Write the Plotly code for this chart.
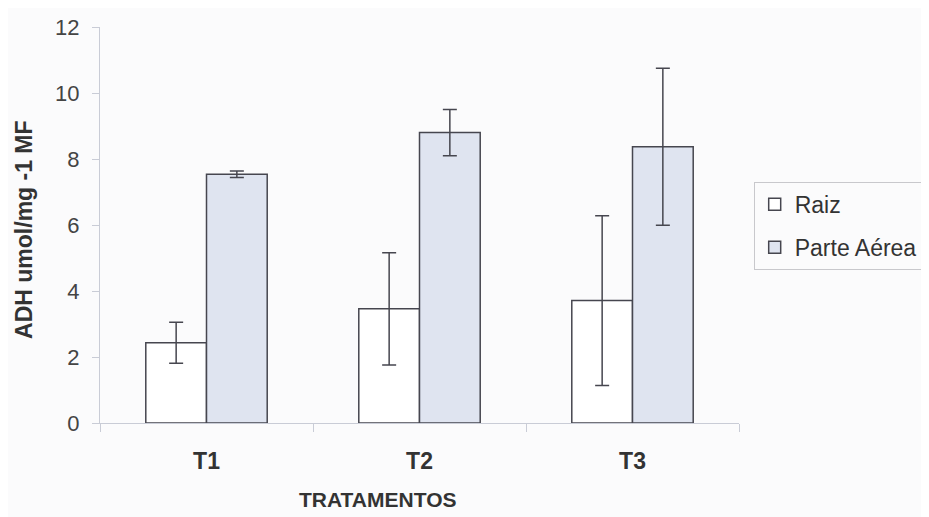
import plotly.graph_objects as go

categories = ["T1", "T2", "T3"]
raiz = [2.43, 3.46, 3.71]
raiz_err = [0.62, 1.70, 2.57]
parte = [7.54, 8.80, 8.37]
parte_err = [0.10, 0.70, 2.38]
yticks = [0, 2, 4, 6, 8, 10, 12]

edge = "#46464f"
font = "Liberation Sans, Arial, sans-serif"

fig = go.Figure()
fig.add_trace(go.Bar(
    name="Raiz", x=categories, y=raiz, legendgroup="a",
    marker=dict(color="#ffffff", line=dict(color=edge, width=1.5)),
    error_y=dict(type="data", array=raiz_err, color=edge, thickness=1.5, width=7),
))
fig.add_trace(go.Bar(
    name="Parte Aérea", x=categories, y=parte, legendgroup="b",
    marker=dict(color="#dfe4f0", line=dict(color=edge, width=1.5)),
    error_y=dict(type="data", array=parte_err, color=edge, thickness=1.5, width=7),
))

fig.update_layout(
    width=929, height=517,
    margin=dict(l=92, r=198, t=19, b=102, autoexpand=False),
    paper_bgcolor="#fbfbfc", plot_bgcolor="#fbfbfc",
    barmode="group", bargap=0.43, bargroupgap=0,
    font=dict(family=font, size=22, color="#333333"),
    showlegend=True,
    legend=dict(x=1.023, y=0.609, xanchor="left", yanchor="top",
                bordercolor="#c8c8cc", borderwidth=1, bgcolor="#fbfbfc",
                font=dict(size=23, color="#333333"), tracegroupgap=10),
    xaxis=dict(type="category", showline=True, linecolor="#c9ccd6", linewidth=1,
               ticks="outside", tickson="boundaries", ticklen=8, tickcolor="#c9ccd6",
               ticklabelstandoff=17,
               tickfont=dict(size=23, color="#333333", family=font, weight="bold"),
               showgrid=False),
    yaxis=dict(range=[0, 12], tickvals=yticks, showline=True, linecolor="#c9ccd6",
               linewidth=1, ticks="outside", ticklen=7, tickcolor="#c9ccd6",
               ticklabelstandoff=8,
               showgrid=False, zeroline=False,
               tickfont=dict(size=22, color="#444444")),
    annotations=[
        dict(text="TRATAMENTOS", xref="paper", yref="paper",
             x=0.435, y=-0.194, xanchor="center", yanchor="middle",
             showarrow=False,
             font=dict(size=21, color="#333333", family=font, weight="bold")),
        dict(text="ADH umol/mg -1 MF", xref="paper", yref="paper",
             x=-0.119, y=0.49, xanchor="center", yanchor="middle", textangle=-90,
             showarrow=False,
             font=dict(size=23, color="#333333", family=font, weight="bold")),
    ],
)

fig.write_html("out.html")
